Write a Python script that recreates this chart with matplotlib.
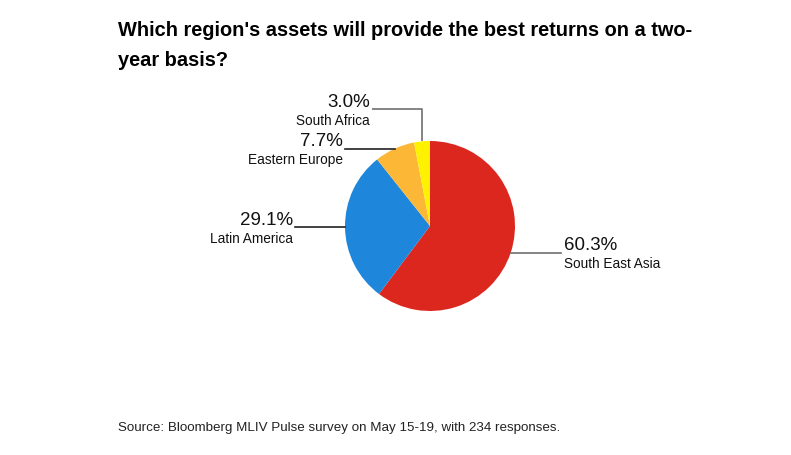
import numpy as np
import matplotlib
matplotlib.use("Agg")
import matplotlib.pyplot as plt

regions = ["South East Asia", "Latin America", "Eastern Europe", "South Africa"]
shares = [60.3, 29.1, 7.7, 3.0]
colors = ["#dc271f", "#1e87db", "#fcb737", "#fff200"]
line_colors = ["#707070", "#222222", "#222222", "#707070"]

W, H = 791, 456
fig = plt.figure(figsize=(W / 100, H / 100), dpi=100)
ax = fig.add_axes([0, 0, 1, 1])

cx, cy, r = 430, H - 227, 85
wedges, _ = ax.pie(shares, colors=colors, startangle=90, counterclock=False,
                   center=(cx, cy), radius=r, frame=True,
                   wedgeprops=dict(linewidth=0))
ax.set_xlim(0, W)
ax.set_ylim(0, H)
ax.set_aspect("equal")
ax.axis("off")

font = "Liberation Sans"
for w, name, val, lc in zip(wedges, regions, shares, line_colors):
    mid = np.deg2rad((w.theta1 + w.theta2) / 2)
    ex, ey = cx + r * np.cos(mid), cy + r * np.sin(mid)
    if name == "South Africa":
        ty = ey + 32
        ax.plot([ex, ex, ex - 50], [ey, ty, ty], color=lc, lw=1.2, solid_capstyle="butt")
        tx = ex - 52
        ha = "right"
    elif np.cos(mid) < 0:
        ty = ey
        ax.plot([ex, ex - 50], [ty, ty], color=lc, lw=1.2)
        tx = ex - 52
        ha = "right"
    else:
        ty = ey
        ax.plot([ex, ex + 50], [ty, ty], color=lc, lw=1.2)
        tx = ex + 53
        ha = "left"
    ax.text(tx, ty - 0.5, f"{val:.1f}%", ha=ha, va="bottom", fontsize=13.5,
            family=font, color="#111111")
    ax.text(tx, ty - 3.5, name, ha=ha, va="top", fontsize=9.8,
            family=font, color="#111111")

fig.text(118 / W, 1 - 30 / H, "Which region's assets will provide the best returns on a two-",
         ha="left", va="center", fontsize=14.4, fontweight="bold", family=font, color="black")
fig.text(118 / W, 1 - 60 / H, "year basis?",
         ha="left", va="center", fontsize=14.4, fontweight="bold", family=font, color="black")
fig.text(118 / W, 1 - 428 / H,
         "Source: Bloomberg MLIV Pulse survey on May 15-19, with 234 responses.",
         ha="left", va="center", fontsize=9.62, family=font, color="#222222")

fig.savefig("out.png", dpi=100, facecolor="white")
